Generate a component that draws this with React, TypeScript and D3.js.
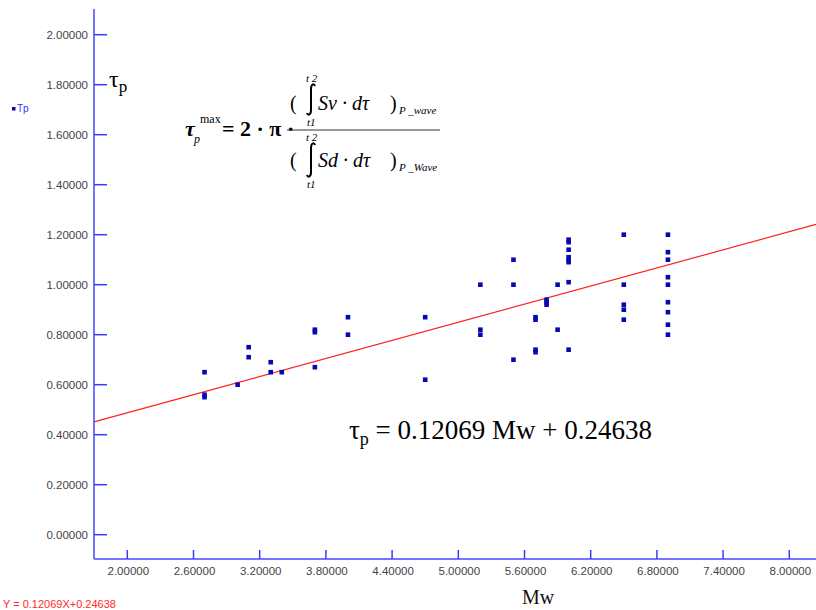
import React, { useRef, useEffect } from 'react';
import * as d3 from 'd3';

const mwValues = [
  2.7, 2.7, 2.7,
  3.0,
  3.1, 3.1,
  3.3, 3.3,
  3.4,
  3.7, 3.7, 3.7,
  4.0, 4.0,
  4.7, 4.7,
  5.2, 5.2, 5.2,
  5.5, 5.5, 5.5,
  5.7, 5.7, 5.7, 5.7,
  5.8, 5.8, 5.8,
  5.9, 5.9,
  6.0, 6.0, 6.0, 6.0, 6.0, 6.0, 6.0, 6.0,
  6.5, 6.5, 6.5, 6.5, 6.5,
  6.9, 6.9, 6.9, 6.9, 6.9, 6.9, 6.9, 6.9, 6.9,
];
const tpValues = [
  0.65, 0.56, 0.55,
  0.60,
  0.75, 0.71,
  0.69, 0.65,
  0.65,
  0.82, 0.81, 0.67,
  0.87, 0.80,
  0.87, 0.62,
  1.00, 0.82, 0.80,
  1.10, 1.00, 0.70,
  0.87, 0.86, 0.74, 0.73,
  0.94, 0.93, 0.92,
  1.00, 0.82,
  1.18, 1.17, 1.14, 1.11, 1.10, 1.09, 1.01, 0.74,
  1.20, 1.00, 0.92, 0.90, 0.86,
  1.20, 1.13, 1.10, 1.03, 1.00, 0.93, 0.89, 0.84, 0.80,
];

const xTicks = [2.0, 2.6, 3.2, 3.8, 4.4, 5.0, 5.6, 6.2, 6.8, 7.4, 8.0];
const yTicks = [0.0, 0.2, 0.4, 0.6, 0.8, 1.0, 1.2, 1.4, 1.6, 1.8, 2.0];

const slope = 0.12069;
const intercept = 0.24638;

const seriesName = 'Tp';
const xTitle = 'Mw';
const fitLabel = 'Y = 0.12069X+0.24638';

const App: React.FC = () => {
  const chartRef = useRef<SVGSVGElement | null>(null);

  useEffect(() => {
    if (!chartRef.current) return;
    d3.select(chartRef.current).selectAll('*').remove();

    const width = 816;
    const height = 610;
    const left = 94;
    const top = 9;
    const bottom = 559;

    const svg = d3.select(chartRef.current)
      .attr('width', width)
      .attr('height', height);

    const x = d3.scaleLinear().domain([2, 8]).range([127.3, 789.3]);
    const y = d3.scaleLinear().domain([0, 2]).range([534.7, 34.7]);
    const fmt = d3.format('.5f');

    const axisColor = '#7474ff';
    const tickColor = '#3a3aff';

    // Axes lines
    svg.append('line')
      .attr('x1', left).attr('x2', left)
      .attr('y1', top).attr('y2', bottom)
      .attr('stroke', axisColor).attr('stroke-width', 2);
    svg.append('line')
      .attr('x1', left).attr('x2', width)
      .attr('y1', bottom).attr('y2', bottom)
      .attr('stroke', axisColor).attr('stroke-width', 2);

    // Y ticks and labels
    const yg = svg.append('g');
    yg.selectAll('line')
      .data(yTicks)
      .join('line')
      .attr('x1', left).attr('x2', left + 13)
      .attr('y1', d => y(d)).attr('y2', d => y(d))
      .attr('stroke', tickColor).attr('stroke-width', 1.5);
    yg.selectAll('text')
      .data(yTicks)
      .join('text')
      .attr('x', 88)
      .attr('y', d => y(d))
      .attr('dy', '0.35em')
      .attr('text-anchor', 'end')
      .attr('font-family', 'Liberation Sans, Arial, sans-serif')
      .attr('font-size', 11.5)
      .attr('fill', '#444')
      .text(d => fmt(d));

    // X ticks and labels
    const xg = svg.append('g');
    xg.selectAll('line')
      .data(xTicks)
      .join('line')
      .attr('x1', d => x(d)).attr('x2', d => x(d))
      .attr('y1', bottom - 9).attr('y2', bottom)
      .attr('stroke', tickColor).attr('stroke-width', 1.5);
    xg.selectAll('text')
      .data(xTicks)
      .join('text')
      .attr('x', d => x(d) + 1)
      .attr('y', 575)
      .attr('text-anchor', 'middle')
      .attr('font-family', 'Liberation Sans, Arial, sans-serif')
      .attr('font-size', 11.5)
      .attr('fill', '#444')
      .text(d => fmt(d));

    // Regression line across the plot
    const xMin = x.invert(left);
    const xMax = x.invert(width);
    svg.append('line')
      .attr('x1', x(xMin)).attr('y1', y(slope * xMin + intercept))
      .attr('x2', x(xMax)).attr('y2', y(slope * xMax + intercept))
      .attr('stroke', '#ff2020').attr('stroke-width', 1.2);

    // Points
    const pts = mwValues.map((m, i) => ({ m, t: tpValues[i] }));
    svg.append('g')
      .selectAll('rect')
      .data(pts)
      .join('rect')
      .attr('x', d => x(d.m) - 2.3)
      .attr('y', d => y(d.t) - 2.3)
      .attr('width', 4.6)
      .attr('height', 4.6)
      .attr('fill', '#0808b0');

    // Legend
    svg.append('rect')
      .attr('x', 12).attr('y', 107).attr('width', 3.5).attr('height', 3.5)
      .attr('fill', '#0808b0');
    svg.append('text')
      .attr('x', 17).attr('y', 112)
      .attr('font-family', 'Liberation Sans, Arial, sans-serif')
      .attr('font-size', 10)
      .attr('fill', '#3030ff')
      .text(seriesName);

    // x title
    svg.append('text')
      .attr('x', 538).attr('y', 604)
      .attr('text-anchor', 'middle')
      .attr('font-family', 'Liberation Serif, Times New Roman, serif')
      .attr('font-size', 20)
      .attr('fill', '#111')
      .text(xTitle);

    // fit label bottom-left
    svg.append('text')
      .attr('x', 3).attr('y', 608)
      .attr('font-family', 'Liberation Sans, Arial, sans-serif')
      .attr('font-size', 11)
      .attr('fill', '#ff2a2a')
      .text(fitLabel);

    const serif = 'Liberation Serif, Times New Roman, serif';

    // top-left tau_p
    const tl = svg.append('text')
      .attr('x', 109).attr('y', 87)
      .attr('font-family', serif)
      .attr('font-size', 24)
      .attr('fill', '#000');
    tl.append('tspan').text('τ');
    tl.append('tspan').attr('font-size', 17).attr('dy', 5).text('p');

    // big equation
    const eq = svg.append('text')
      .attr('x', 349).attr('y', 439)
      .attr('font-family', serif)
      .attr('font-size', 27)
      .attr('fill', '#000');
    eq.append('tspan').text('τ');
    eq.append('tspan').attr('font-size', 18).attr('dy', 6).text('p');
    eq.append('tspan').attr('dy', -6).text(` = ${slope} ${xTitle} + ${intercept}`);

    // formula
    const f = svg.append('g').attr('font-family', serif).attr('fill', '#000');
    const txt = (s: string, xx: number, yy: number, size: number, italic = false, bold = false) =>
      f.append('text')
        .attr('x', xx).attr('y', yy)
        .attr('font-size', size)
        .attr('font-style', italic ? 'italic' : 'normal')
        .attr('font-weight', bold ? 'bold' : 'normal')
        .text(s);

    txt('τ', 185, 136, 22, true, true);
    txt('p', 194, 143, 12, true);
    txt('max', 200, 123, 12);
    txt('= 2 · π ·', 222, 136, 22, false, true);

    // fraction bar
    f.append('line')
      .attr('x1', 287).attr('x2', 440)
      .attr('y1', 130).attr('y2', 130)
      .attr('stroke', '#333').attr('stroke-width', 1);

    const part = (yb: number, yTop: number, yBot: number, body: string, sub: string) => {
      txt('(', 290, yb, 20);
      const ix = 311;
      f.append('path')
        .attr('d', `M${ix + 4},${yTop + 2} C${ix + 3},${yTop - 1} ${ix},${yTop} ${ix},${yTop + 5} L${ix},${yBot - 5} C${ix},${yBot} ${ix - 3},${yBot + 1} ${ix - 4},${yBot - 2}`)
        .attr('fill', 'none')
        .attr('stroke', '#000')
        .attr('stroke-width', 2);
      txt('t 2', 306, yTop - 2, 11, true);
      txt('t1', 307, yBot + 11, 11, true);
      txt(body, 318, yb, 20, true);
      txt(')', 390, yb, 20);
      txt(sub, 399, yb + 4, 11, true);
    };
    part(110, 84, 115, 'Sv · dτ', 'P _wave');
    part(167, 143, 177, 'Sd · dτ', 'P _Wave');
  }, []);

  return (
    <div style={{ position: 'absolute', left: 0, top: 0, background: '#fff' }}>
      <svg ref={chartRef} style={{ display: 'block' }} />
    </div>
  );
};

export default App;
